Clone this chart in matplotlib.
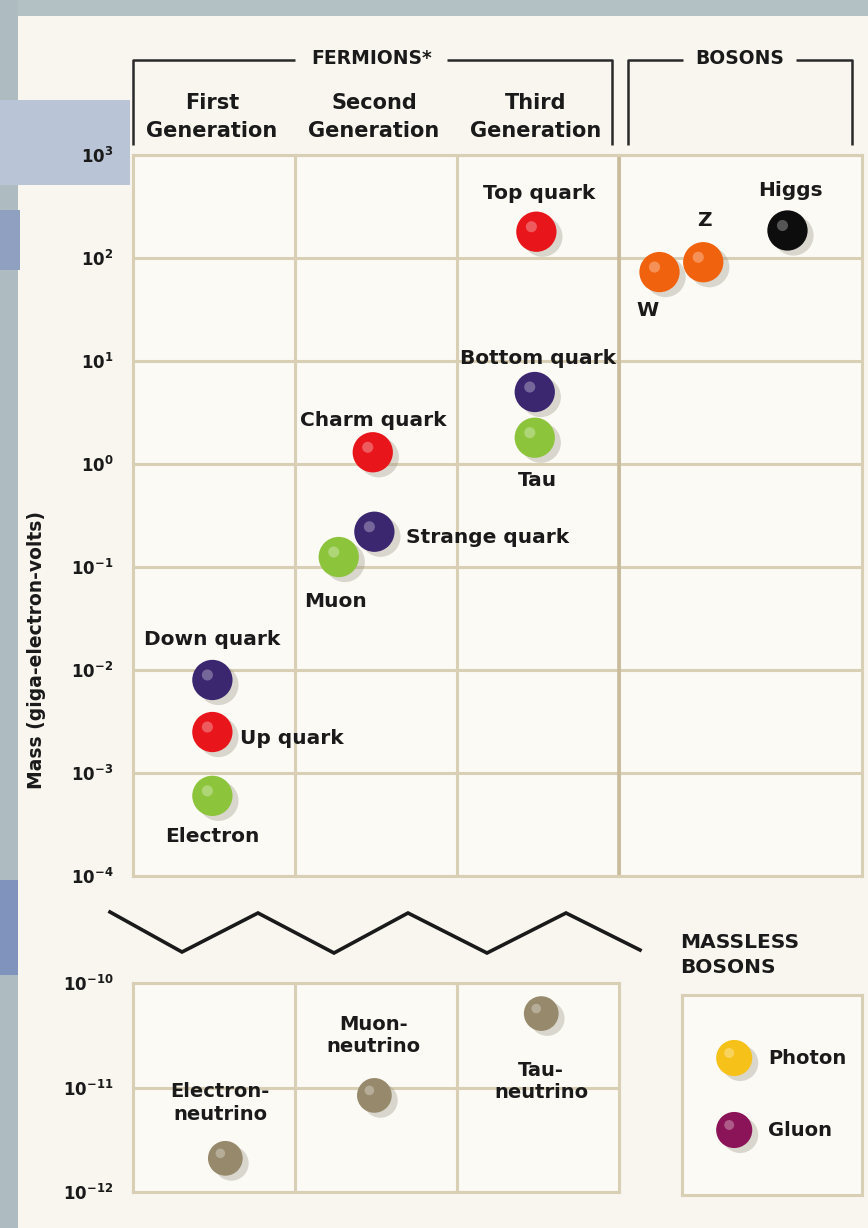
import matplotlib
matplotlib.use("Agg")
import matplotlib.pyplot as plt
import matplotlib.transforms as mtransforms
from matplotlib.patches import Rectangle

# ---------------- data ----------------
massive_names = ["Top quark", "Higgs", "Z", "W", "Bottom quark", "Tau",
                 "Charm quark", "Strange quark", "Muon", "Down quark",
                 "Up quark", "Electron"]
massive_column = [2, 3, 3, 3, 2, 2, 1, 1, 1, 0, 0, 0]
massive_mass_gev = [180, 185, 91, 73, 5.0, 1.8, 1.3, 0.22, 0.125,
                    0.008, 0.0025, 0.0006]
massive_kind = ["up", "higgs", "weak", "weak", "down", "lepton",
                "up", "down", "lepton", "down", "up", "lepton"]

neutrino_names = ["Electron-\nneutrino", "Muon-\nneutrino", "Tau-\nneutrino"]
neutrino_column = [0, 1, 2]
neutrino_mass_gev = [2.1e-12, 8.4e-12, 5.1e-11]

massless_names = ["Photon", "Gluon"]

top_ticks = [1e3, 1e2, 1e1, 1e0, 1e-1, 1e-2, 1e-3, 1e-4]
top_ticklabels = ["$10^{3}$", "$10^{2}$", "$10^{1}$", "$10^{0}$", "$10^{-1}$",
                  "$10^{-2}$", "$10^{-3}$", "$10^{-4}$"]
bot_ticks = [1e-10, 1e-11, 1e-12]
bot_ticklabels = ["$10^{-10}$", "$10^{-11}$", "$10^{-12}$"]

generation_labels = ["First\nGeneration", "Second\nGeneration", "Third\nGeneration"]

# ---------------- styles / layout ----------------
kind_color = {"up": "#e8151b", "down": "#3b2670", "lepton": "#8cc43c",
              "weak": "#f1620f", "higgs": "#0d0d0d"}
neutrino_color = "#978a6c"
massless_color = ["#f6c21a", "#8a1457"]

# x position inside column (layout only)
massive_xoff = [0.49, 1.04, 0.52, 0.25, 0.48, 0.48, 0.48, 0.49, 0.27, 0.49, 0.49, 0.49]
neutrino_xoff = [0.57, 0.49, 0.52]
# label offsets in pixels (dx, dy, ha)
massive_lab = [(3, 38, "center"), (3, 40, "center"), (1, 42, "center"),
               (-12, -38, "center"), (3, 34, "center"), (3, -43, "center"),
               (0, 32, "center"), (32, -6, "left"), (-3, -44, "center"),
               (0, 40, "center"), (28, -6, "left"), (0, -41, "center")]
neutrino_lab = [(-5, 55, "center"), (-1, 60, "center"), (0, -68, "center")]

W, H, DPI = 868, 1228, 100
paper = "#f8f6ef"
gridc = "#d9cfb4"
txt = "#1a1a1a"
FONT = dict(family="DejaVu Sans", weight="bold")

plt.rcParams["mathtext.default"] = "bf"
plt.rcParams["font.family"] = ["DejaVu Sans"]

fig = plt.figure(figsize=(W / DPI, H / DPI), dpi=DPI, facecolor=paper)


def fr(x0, y0, x1, y1):
    """pixel box (top-left origin) -> figure fraction rect"""
    return [x0 / W, 1 - y1 / H, (x1 - x0) / W, (y1 - y0) / H]


# background of the photographed slide
for (x0, y0, x1, y1, c) in [(0, 0, W, 16, "#b3c1c4"), (0, 0, 18, H, "#aebcc2"),
                            (0, 100, 130, 185, "#b9c5d6"), (0, 210, 20, 270, "#8fa0c0"),
                            (0, 880, 18, 975, "#7f93bd")]:
    fig.add_artist(Rectangle((x0 / W, 1 - y1 / H), (x1 - x0) / W, (y1 - y0) / H,
                             transform=fig.transFigure, facecolor=c, edgecolor="none",
                             zorder=0))


def style_axes(ax, xmax, ticks, labels, ymin, ymax):
    ax.set_facecolor("#fbfaf5")
    ax.set_yscale("log")
    ax.set_ylim(ymin, ymax)
    ax.set_xlim(0, xmax)
    ax.set_yticks(ticks)
    ax.set_yticklabels(labels)
    ax.minorticks_off()
    ax.set_xticks([1, 2, 3] if xmax > 3 else [1, 2])
    ax.set_xticklabels([])
    ax.tick_params(length=0, pad=14, labelsize=12, labelcolor=txt)
    ax.grid(True, color=gridc, lw=2.2)
    ax.set_axisbelow(True)
    for s in ax.spines.values():
        s.set_color(gridc)
        s.set_linewidth(2.2)


def ball(ax, x, y, color, r_pt, shadow=True):
    base = ax.transData
    if shadow:
        sh = base + mtransforms.ScaledTranslation(6 / DPI, -5 / DPI, fig.dpi_scale_trans)
        ax.scatter([x], [y], s=(2 * r_pt) ** 2, color="#9c9484", alpha=0.35,
                   edgecolors="none", transform=sh, zorder=3)
    ax.scatter([x], [y], s=(2 * r_pt) ** 2, color=color, edgecolors="none", zorder=4)
    hl = base + mtransforms.ScaledTranslation(-5 / DPI, 5 / DPI, fig.dpi_scale_trans)
    ax.scatter([x], [y], s=(0.55 * r_pt) ** 2, color="white", alpha=0.3,
               edgecolors="none", transform=hl, zorder=5)


# ---------------- top panel ----------------
ax = fig.add_axes(fr(133, 155, 862, 876))
style_axes(ax, 4.5, top_ticks, top_ticklabels, 1e-4, 1e3)
ax.axvline(3, color="#c8bc9c", lw=2.6, zorder=1)
R = 14.5  # ball radius in points
for name, col, m, k, xo, (dx, dy, ha) in zip(massive_names, massive_column, massive_mass_gev,
                                              massive_kind, massive_xoff, massive_lab):
    x = col + xo
    ball(ax, x, m, kind_color[k], R)
    ax.annotate(name, (x, m), xytext=(dx, dy), textcoords="offset pixels",
                ha=ha, va="center", fontsize=14.5, color=txt, zorder=6, **FONT)

ax.set_ylabel("Mass (giga-electron-volts)", fontsize=13.5, color=txt, **FONT)
ax.yaxis.set_label_coords(-0.12, 0.313)

# ---------------- bottom panel ----------------
bx = fig.add_axes(fr(133, 983, 619, 1192))
style_axes(bx, 3, bot_ticks, bot_ticklabels, 1e-12, 1e-10)
for name, col, m, xo, (dx, dy, ha) in zip(neutrino_names, neutrino_column, neutrino_mass_gev,
                                          neutrino_xoff, neutrino_lab):
    x = col + xo
    ball(bx, x, m, neutrino_color, 12.5)
    bx.annotate(name, (x, m), xytext=(dx, dy), textcoords="offset pixels",
                ha=ha, va="center", fontsize=14, color=txt, zorder=6,
                linespacing=1.25, **FONT)

# ---------------- legend box for massless bosons ----------------
lx = fig.add_axes(fr(682, 995, 862, 1195))
lx.set_facecolor("#fbfaf5")
lx.set_xlim(0, 1)
lx.set_ylim(0, 1)
lx.set_xticks([])
lx.set_yticks([])
for s in lx.spines.values():
    s.set_color(gridc)
    s.set_linewidth(2.2)
for i, (name, c) in enumerate(zip(massless_names, massless_color)):
    yy = 0.685 - i * 0.36
    ball(lx, 0.29, yy, c, 13, shadow=True)
    lx.text(0.48, yy, name, ha="left", va="center", fontsize=14, color=txt, **FONT)

# ---------------- overlay: headers, brackets, zigzag ----------------
ov = fig.add_axes([0, 0, 1, 1], zorder=10)
ov.set_xlim(0, W)
ov.set_ylim(H, 0)
ov.axis("off")
ov.patch.set_alpha(0)

lk = dict(color="#2a2a2a", lw=1.8, solid_capstyle="butt")
# fermions bracket
ov.plot([133, 133, 295], [145, 60, 60], **lk)
ov.plot([447, 612, 612], [60, 60, 145], **lk)
ov.text(372, 58, "FERMIONS*", ha="center", va="center", fontsize=13.5, color=txt, **FONT)
# bosons bracket
ov.plot([628, 628, 683], [145, 60, 60], **lk)
ov.plot([796, 852, 852], [60, 60, 145], **lk)
ov.text(740, 58, "BOSONS", ha="center", va="center", fontsize=13.5, color=txt, **FONT)
for i, g in enumerate(generation_labels):
    ov.text(212 + i * 162, 117, g, ha="center", va="center", fontsize=15,
            color=txt, linespacing=1.55, **FONT)

# axis-break zigzag
zx = [110, 182, 258, 334, 408, 487, 566, 640]
zy = [912, 952, 913, 953, 913, 953, 913, 950]
ov.plot(zx, zy, color="#1a1a1a", lw=2.6, solid_joinstyle="miter")

ov.text(680, 955, "MASSLESS\nBOSONS", ha="left", va="center", fontsize=14.5,
        color=txt, linespacing=1.35, **FONT)

fig.savefig("out.png", dpi=DPI, facecolor=fig.get_facecolor())
